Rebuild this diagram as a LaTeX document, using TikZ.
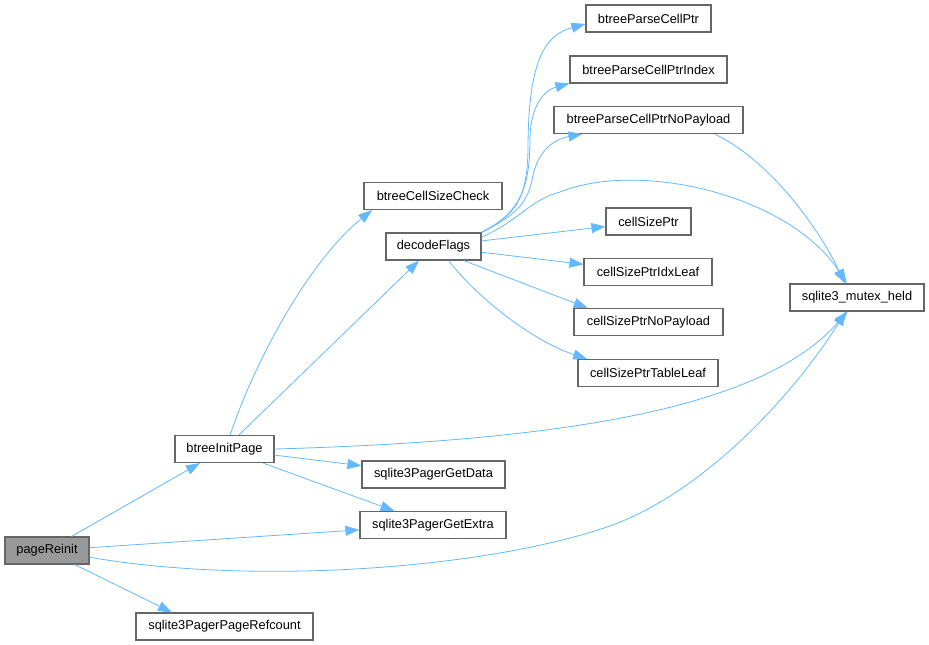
\documentclass[tikz,border=0pt]{standalone}
\usepackage{fontspec}
\setmainfont{Liberation Sans}
\usepackage{xcolor}
\usepackage{tikz}
\usetikzlibrary{arrows.meta}

\definecolor{edgeblue}{HTML}{63B8FF}
\definecolor{boxgray}{HTML}{666666}
\definecolor{callerfill}{HTML}{999999}

\begin{document}
\begin{tikzpicture}[x=1pt,y=1pt,
  fn/.style={draw=boxgray, line width=1.1pt, fill=white, rectangle, minimum height=27pt,
    inner sep=0pt, font=\fontsize{12.8}{15}\selectfont},
  caller/.style={fn, fill=callerfill},
  call/.style={draw=edgeblue, line width=0.8pt, -{Triangle[length=14pt,width=10pt]}}]
\useasboundingbox (0,0) rectangle (929,-645);

% Caller and first level
\node[caller, minimum width=84pt] (pagereinit) at (47,-550.5) {pageReinit};
\node[fn, minimum width=99pt] (initpage) at (224.5,-449) {btreeInitPage};
\node[fn, minimum width=177pt] (refcount) at (224.5,-626.5) {sqlite3PagerPageRefcount};
\node[fn, minimum width=143pt] (getdata) at (433.5,-474.5) {sqlite3PagerGetData};
\node[fn, minimum width=146pt] (getextra) at (433,-525) {sqlite3PagerGetExtra};

% Second level
\node[fn, minimum width=138pt] (sizecheck) at (433,-196) {btreeCellSizeCheck};
\node[fn, minimum width=95pt] (decode) at (433.5,-246.5) {decodeFlags};

% Callees of decodeFlags
\node[fn, minimum width=125pt] (parseptr) at (648.5,-18.5) {btreeParseCellPtr};
\node[fn, minimum width=157pt] (parseidx) at (648.5,-69.5) {btreeParseCellPtrIndex};
\node[fn, minimum width=189pt] (parsenp) at (648.5,-120) {btreeParseCellPtrNoPayload};
\node[fn, minimum width=85pt] (sizeptr) at (648.5,-221.5) {cellSizePtr};
\node[fn, minimum width=128pt] (idxleaf) at (648,-272) {cellSizePtrIdxLeaf};
\node[fn, minimum width=149pt] (sizenp) at (648.5,-322) {cellSizePtrNoPayload};
\node[fn, minimum width=140pt] (tableleaf) at (648,-373) {cellSizePtrTableLeaf};
\node[fn, minimum width=134pt] (mutex) at (857,-297.5) {sqlite3\_mutex\_held};

% Calls from pageReinit
\draw[call] (pagereinit) -- (initpage);
\draw[call] (pagereinit) -- (getextra);
\draw[call] (pagereinit.-27) -- (refcount.165);
\draw[call] (pagereinit.-9) .. controls (250,-585) and (480,-570) .. (607,-527)
  .. controls (700,-495) and (790,-400) .. (mutex.232);

% Calls from btreeInitPage
\draw[call] (initpage.68) .. controls (255,-360) and (310,-260) .. (sizecheck.193);
\draw[call] (initpage) -- (decode);
\draw[call] (initpage) -- (getdata);
\draw[call] (initpage) -- (getextra);
\draw[call] (initpage.east) .. controls (600,-440) and (770,-400) .. (mutex.236);

% Calls from decodeFlags
\draw[call] (decode.north east) .. controls (515,-215) and (527,-200) .. (528,-150)
  .. controls (528,-60) and (545,-35) .. (parseptr.185);
\draw[call] (decode.north east) .. controls (515,-215) and (530,-195) .. (530,-140)
  .. controls (530,-105) and (545,-90) .. (parseidx.190);
\draw[call] (decode.north east) .. controls (515,-215) and (528,-205) .. (533,-175)
  .. controls (540,-145) and (560,-138) .. (parsenp.192);
\draw[call] (decode.11) .. controls (520,-220) and (530,-200) .. (560,-192)
  .. controls (640,-160) and (790,-195) .. (mutex.126);
\draw[call] (decode) -- (sizeptr);
\draw[call] (decode) -- (idxleaf);
\draw[call] (decode.-25) -- (sizenp.167);
\draw[call] (decode.-43) .. controls (475,-295) and (530,-340) .. (tableleaf.167);

% Call from btreeParseCellPtrNoPayload
\draw[call] (parsenp.-12) .. controls (770,-160) and (820,-230) .. (mutex.131);

\end{tikzpicture}
\end{document}
